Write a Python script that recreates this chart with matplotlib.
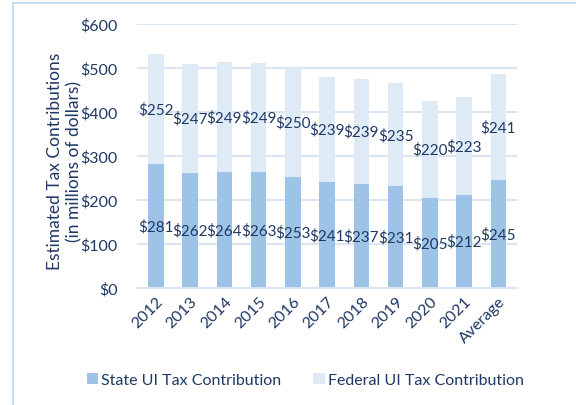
import matplotlib
matplotlib.use('Agg')
import matplotlib.pyplot as plt
from matplotlib.patches import Rectangle
import numpy as np

plt.rcParams['font.family'] = ['Lato', 'DejaVu Sans']

# 数据
years = ['2012', '2013', '2014', '2015', '2016', '2017', '2018', '2019', '2020', '2021', 'Average']
state_ui = [281, 262, 264, 263, 253, 241, 237, 231, 205, 212, 245]
federal_ui = [252, 247, 249, 249, 250, 239, 239, 235, 220, 223, 241]
y_ticks = [0, 100, 200, 300, 400, 500, 600]

navy = '#1F3864'
state_color = '#9DC3E6'
fed_color = '#DEEBF7'
grid_color = '#DAE5F4'

fig = plt.figure(figsize=(5.76, 4.06), dpi=100)
ax = fig.add_axes([0.238, 0.288, 0.66, 0.65])

# 外边框
fig.patches.append(Rectangle((13 / 576, -0.1), 1.2, 1 - 4 / 406 + 0.1, transform=fig.transFigure,
                             fill=False, edgecolor='#BDD7EE', linewidth=1.2))

x = np.arange(len(years))
b1 = ax.bar(x, state_ui, width=0.45, color=state_color, label='State UI Tax Contribution', zorder=2)
b2 = ax.bar(x, federal_ui, width=0.45, bottom=state_ui, color=fed_color,
            label='Federal UI Tax Contribution', zorder=2)

ax.bar_label(b1, labels=['$%d' % v for v in state_ui], label_type='center', color=navy, fontsize=11)
ax.bar_label(b2, labels=['$%d' % v for v in federal_ui], label_type='center', color=navy, fontsize=11)

ax.set_ylim(0, 600)
ax.set_xlim(-0.55, len(years) - 0.45)
ax.set_yticks(y_ticks)
ax.set_yticklabels(['$%d' % v for v in y_ticks])
ax.set_xticks(x)
ax.set_xticklabels(years, rotation=45, ha='right', rotation_mode='anchor')
ax.tick_params(axis='both', length=0, labelsize=11.5, labelcolor=navy)
ax.tick_params(axis='y', pad=14)
ax.tick_params(axis='x', pad=4)

ax.grid(axis='y', color=grid_color, linewidth=1.5, zorder=0)
for s in ['top', 'right', 'left']:
    ax.spines[s].set_visible(False)
ax.spines['bottom'].set_color(grid_color)
ax.spines['bottom'].set_linewidth(1.5)

ax.set_ylabel('Estimated Tax Contributions\n(in millions of dollars)', color=navy, fontsize=12.5)
ax.yaxis.set_label_coords(-0.145, 0.485)

fig.legend(handles=[b1, b2], loc='center', bbox_to_anchor=(0.53, 0.062), ncol=2, frameon=False,
           fontsize=11.5, labelcolor=navy, handlelength=0.7, handleheight=0.7, columnspacing=2.0,
           handletextpad=0.2)

fig.savefig('out.png', dpi=100)
